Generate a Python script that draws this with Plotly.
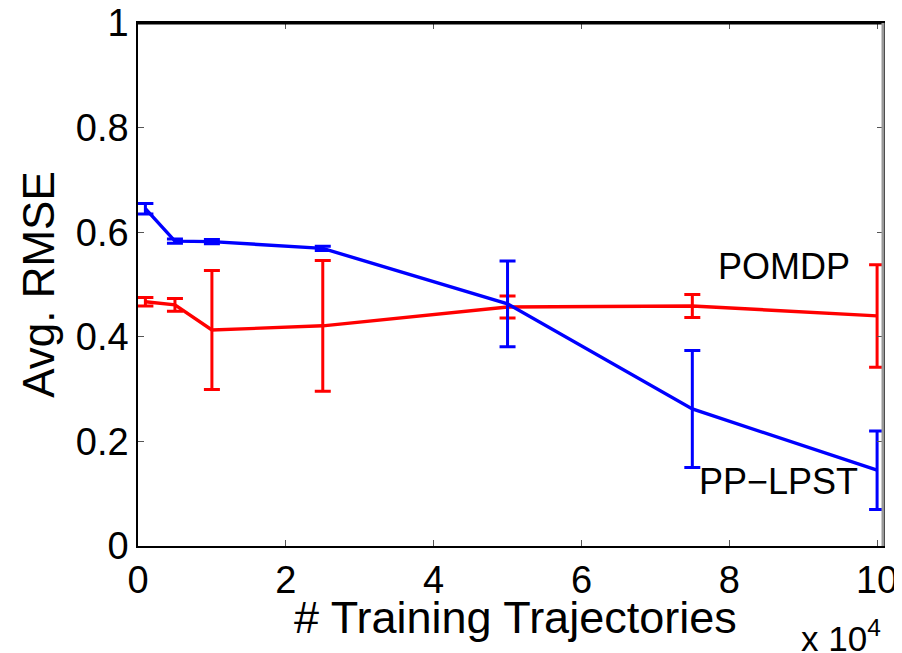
import plotly.graph_objects as go

# Data (x = number of training trajectories)
trajectories = [1000, 5000, 10000, 25000, 50000, 75000, 100000]
pomdp_rmse = [0.467, 0.461, 0.413, 0.421, 0.457, 0.459, 0.440]
pomdp_err = [0.008, 0.012, 0.114, 0.125, 0.021, 0.022, 0.098]
pplpst_rmse = [0.645, 0.583, 0.582, 0.569, 0.463, 0.262, 0.145]
pplpst_err = [0.010, 0.004, 0.004, 0.004, 0.082, 0.112, 0.075]

x_tickvals = [0, 20000, 40000, 60000, 80000, 100000]
x_ticktext = ["0", "2", "4", "6", "8", "10"]
y_tickvals = [0, 0.2, 0.4, 0.6, 0.8, 1]
y_ticktext = ["0", "0.2", "0.4", "0.6", "0.8", "1"]

FONT = "Liberation Sans, Arial, Helvetica, sans-serif"

fig = go.Figure()
fig.add_trace(go.Scatter(
    x=trajectories, y=pomdp_rmse, mode="lines", name="POMDP",
    line=dict(color="#ff0000", width=3.4),
    error_y=dict(type="data", array=pomdp_err, visible=True,
                 color="#ff0000", thickness=3, width=8),
))
fig.add_trace(go.Scatter(
    x=trajectories, y=pplpst_rmse, mode="lines", name="PP−LPST",
    line=dict(color="#0000ff", width=3.4),
    error_y=dict(type="data", array=pplpst_err, visible=True,
                 color="#0000ff", thickness=3, width=8),
))

# the page body has an 8px margin; margins are set so the plot box lands
# where the reference has it
fig.update_layout(
    width=902, height=653,
    margin=dict(l=130, r=27, t=15, b=115, autoexpand=False),
    paper_bgcolor="white", plot_bgcolor="white",
    showlegend=False,
    font=dict(family=FONT, size=38, color="black"),
    xaxis=dict(
        range=[0, 100800], tickvals=x_tickvals, ticktext=x_ticktext,
        showgrid=False, zeroline=False, automargin=False,
        showline=True, linecolor="black", linewidth=1.5, mirror="ticks",
        ticks="inside", ticklen=6, tickcolor="#555555", tickwidth=1,
        tickfont=dict(size=38), ticklabelstandoff=0, ticklabeloverflow="allow",
    ),
    yaxis=dict(
        range=[0, 1], tickvals=y_tickvals, ticktext=y_ticktext,
        showgrid=False, zeroline=False, automargin=False,
        showline=True, linecolor="black", linewidth=1.5, mirror="ticks",
        ticks="inside", ticklen=6, tickcolor="#555555", tickwidth=1,
        tickfont=dict(size=38), ticklabeloverflow="allow",
        title=dict(text="Avg. RMSE", font=dict(size=44), standoff=7),
    ),
    shapes=[
        dict(type="line", xref="paper", yref="paper", x0=0, x1=1, y0=0.999, y1=0.999,
             line=dict(color="black", width=2), layer="above"),
        dict(type="line", xref="paper", yref="paper", x0=1, x1=1, y0=0, y1=1,
             line=dict(color="#999999", width=3), layer="above"),
    ],
    annotations=[
        dict(x=0.507, y=-0.136, xref="paper", yref="paper", text="# Training Trajectories",
             showarrow=False, font=dict(size=45), xanchor="center", yanchor="middle"),
        dict(x=87400, y=0.535, xref="x", yref="y", text="POMDP", showarrow=False,
             font=dict(size=36), xanchor="center", yanchor="middle"),
        dict(x=86600, y=0.124, xref="x", yref="y", text="PP−LPST", showarrow=False,
             font=dict(size=36), xanchor="center", yanchor="middle"),
        dict(x=1.0, y=-0.218, xref="paper", yref="paper", text="x 10<sup>4</sup>",
             showarrow=False, font=dict(size=35), xanchor="right", yanchor="bottom"),
    ],
)

fig.write_html("out.html", config={"displayModeBar": False})
